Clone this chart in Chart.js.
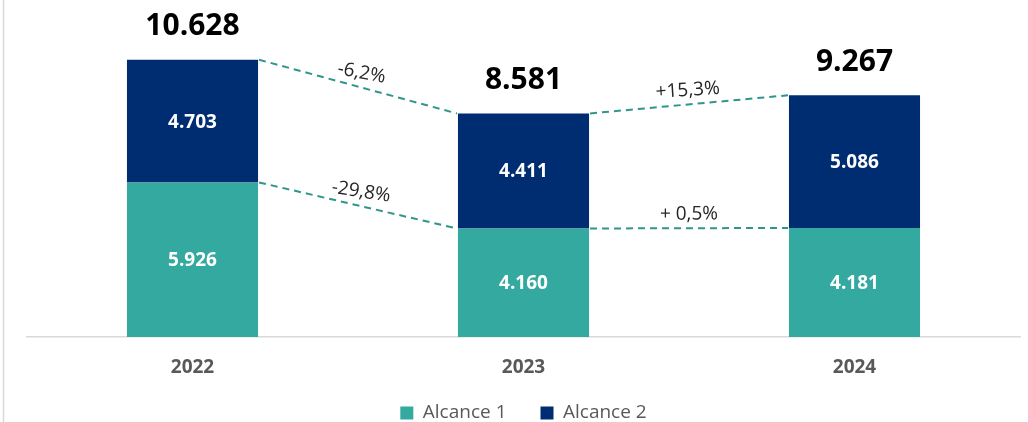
<!DOCTYPE html>
<html><head><meta charset="utf-8">
<script src="https://cdn.jsdelivr.net/npm/chart.js@4.4.1/dist/chart.umd.min.js"></script>
<style>html,body{margin:0;padding:0;background:#fff;overflow:hidden}#wrap{width:1028px;height:422px;position:relative}</style>
</head><body><div id="wrap"><canvas id="c" width="1028" height="422"></canvas></div>
<script>
const years = ['2022', '2023', '2024'];
const alcance1 = [5926, 4160, 4181];
const alcance2 = [4703, 4411, 5086];
const totals = [10628, 8581, 9267];
const seriesNames = ['Alcance 1', 'Alcance 2'];
const changeAlcance1 = ['-29,8%', '+ 0,5%'];
const changeAlcance2 = ['-6,2%', '+15,3%'];

const FONT = "'Open Sans', 'Noto Sans', sans-serif";
const fmt = v => String(v).replace(/\B(?=(\d{3})+(?!\d))/g, '.');

const overlay = {
  id: 'overlay',
  afterLayout(chart) {
    const lg = chart.legend;
    if (lg) { lg.top -= 17.5; lg.bottom -= 17.5; }
  },
  beforeDraw(chart) {
    const c = chart.ctx;
    c.save();
    c.strokeStyle = '#d9d9d9';
    c.lineWidth = 1.5;
    c.beginPath(); c.moveTo(3.5, 0); c.lineTo(3.5, chart.height); c.stroke();
    c.restore();
  },
  afterDatasetsDraw(chart) {
    const ctx = chart.ctx;
    const m0 = chart.getDatasetMeta(0).data;
    const m1 = chart.getDatasetMeta(1).data;
    ctx.save();
    [[m1, changeAlcance2], [m0, changeAlcance1]].forEach(([bars, labels]) => {
      for (let i = 0; i < bars.length - 1; i++) {
        const a = bars[i], b = bars[i + 1];
        const x1 = a.x + a.width / 2, y1 = a.y, x2 = b.x - b.width / 2, y2 = b.y;
        ctx.strokeStyle = '#2e968c';
        ctx.lineWidth = 2;
        ctx.setLineDash([7, 5]);
        ctx.beginPath(); ctx.moveTo(x1 + 1, y1); ctx.lineTo(x2 - 1, y2); ctx.stroke();
        ctx.setLineDash([]);
        const ang = Math.atan2(y2 - y1, x2 - x1);
        const mx = (x1 + x2) / 2, my = (y1 + y2) / 2, d = 14;
        ctx.save();
        ctx.translate(mx + Math.sin(ang) * d, my - Math.cos(ang) * d);
        ctx.rotate(ang * 0.7);
        ctx.fillStyle = '#262626';
        ctx.font = `19px ${FONT}`;
        ctx.textAlign = 'center'; ctx.textBaseline = 'middle';
        ctx.fillText(labels[i], 0, 0);
        ctx.restore();
      }
    });
    ctx.fillStyle = '#ffffff';
    ctx.font = `bold 19px ${FONT}`;
    ctx.textAlign = 'center'; ctx.textBaseline = 'middle';
    [[m0, alcance1], [m1, alcance2]].forEach(([bars, vals]) => {
      bars.forEach((el, i) => ctx.fillText(fmt(vals[i]), el.x, (el.y + el.base) / 2 + 1));
    });
    ctx.fillStyle = '#000000';
    ctx.font = `bold 30px ${FONT}`;
    m1.forEach((el, i) => ctx.fillText(fmt(totals[i]), el.x, el.y - 33));
    ctx.restore();
  }
};

new Chart(document.getElementById('c'), {
  type: 'bar',
  data: {
    labels: years,
    datasets: [
      { label: seriesNames[0], data: alcance1, backgroundColor: '#33a9a0', barPercentage: 0.396, categoryPercentage: 1 },
      { label: seriesNames[1], data: alcance2, backgroundColor: '#002d72', barPercentage: 0.396, categoryPercentage: 1 }
    ]
  },
  options: {
    responsive: false,
    animation: false,
    layout: { padding: { left: 27, right: 8, top: 24, bottom: -28 } },
    plugins: {
      tooltip: { enabled: false },
      legend: {
        position: 'bottom',
        labels: { boxWidth: 13, boxHeight: 13, padding: 34, color: '#595959', font: { family: FONT, size: 19 } }
      }
    },
    scales: {
      x: {
        stacked: true,
        grid: { display: false, drawTicks: false },
        border: { display: true, color: '#d9d9d9', width: 1.5 },
        ticks: { padding: 19, color: '#595959', font: { family: FONT, size: 19, weight: 'bold' } },
        afterFit(scale) { scale.height = 50; }
      },
      y: {
        stacked: true, display: false, min: 0, max: 12000
      }
    }
  },
  plugins: [overlay]
});
</script></body></html>
